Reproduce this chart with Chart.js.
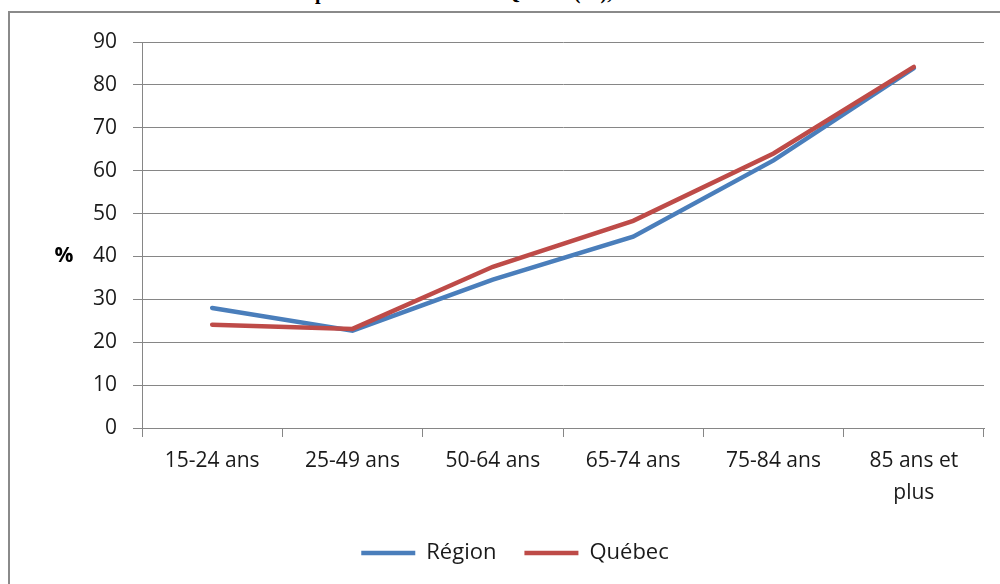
<!DOCTYPE html>
<html lang="fr">
<head>
<meta charset="utf-8">
<title>Région vs Québec</title>
<script src="https://cdn.jsdelivr.net/npm/chart.js@4.4.1/dist/chart.umd.min.js"></script>
<style>
  html, body { margin: 0; padding: 0; background: #fff; }
  body { width: 1000px; height: 584px; position: relative; overflow: hidden; }
  #caption {
    position: absolute; left: 270px; top: -18px; white-space: nowrap;
    font: bold 20px "Liberation Serif", serif; line-height: 20px; color: #000;
  }
  #frame {
    position: absolute; left: 8px; top: 11px; width: 1100px; height: 700px;
    border: 2px solid #8a8a8a; pointer-events: none;
  }
  #wrap { position: absolute; left: 0; top: 0; width: 1000px; height: 584px; }
</style>
</head>
<body>
<div id="caption">la Capitale-Nationale et du Québec (%), 2010-2011</div>
<div id="frame"></div>
<div id="wrap"><canvas id="chart"></canvas></div>
<script>
const categories = ["15-24 ans", "25-49 ans", "50-64 ans", "65-74 ans", "75-84 ans", ["85 ans et", "plus"]];
const regionValues = [28.0, 22.7, 34.6, 44.6, 62.4, 83.9];
const quebecValues = [24.1, 23.1, 37.6, 48.3, 64.0, 84.2];
const yTicks = [0, 10, 20, 30, 40, 50, 60, 70, 80, 90];

const AXIS_GRAY = "#868686";
const TEXT = "#1a1a1a";
const FONT = "'Open Sans', sans-serif";

// draws the bold "%" next to the value axis, Excel-style (not rotated)
const percentLabel = {
  id: "percentLabel",
  afterDraw(chart) {
    const y = chart.scales.y;
    const ctx = chart.ctx;
    ctx.save();
    ctx.font = "bold 21px " + FONT;
    ctx.fillStyle = "#000";
    ctx.textAlign = "center";
    ctx.textBaseline = "middle";
    ctx.fillText("%", 64, y.getPixelForValue(40));
    ctx.restore();
  }
};

new Chart(document.getElementById("chart"), {
  type: "line",
  data: {
    labels: categories,
    datasets: [
      {
        label: "Région",
        data: regionValues,
        borderColor: "#4A7EBB",
        backgroundColor: "#4A7EBB",
        borderWidth: 4.5,
        borderCapStyle: "round",
        pointRadius: 0,
        tension: 0,
        order: 1
      },
      {
        label: "Québec",
        data: quebecValues,
        borderColor: "#BE4B48",
        backgroundColor: "#BE4B48",
        borderWidth: 4.5,
        borderCapStyle: "round",
        pointRadius: 0,
        tension: 0,
        order: 0
      }
    ]
  },
  options: {
    responsive: true,
    maintainAspectRatio: false,
    animation: false,
    layout: { padding: { top: 42, left: 46, right: 16, bottom: 10 } },
    scales: {
      x: {
        offset: true,
        grid: { offset: true, drawOnChartArea: false, tickLength: 9, color: AXIS_GRAY },
        border: { color: AXIS_GRAY },
        ticks: {
          autoSkip: false, maxRotation: 0, padding: 8, color: TEXT,
          font: { family: FONT, size: 21, lineHeight: 1.52 }
        },
        afterFit: scale => { scale.height = 86; }
      },
      y: {
        min: 0,
        max: 90,
        afterBuildTicks: scale => { scale.ticks = yTicks.map(v => ({ value: v })); },
        grid: { color: AXIS_GRAY, tickLength: 9 },
        border: { color: AXIS_GRAY },
        ticks: { padding: 16, color: TEXT, font: { family: FONT, size: 21 } },
        afterFit: scale => { scale.width = 96; }
      }
    },
    plugins: {
      legend: {
        position: "bottom",
        labels: {
          usePointStyle: true,
          pointStyle: "line",
          pointStyleWidth: 54,
          padding: 28,
          color: TEXT,
          font: { family: FONT, size: 22 },
          sort: (a, b) => a.datasetIndex - b.datasetIndex
        }
      },
      tooltip: { enabled: false }
    }
  },
  plugins: [percentLabel]
});
</script>
</body>
</html>
